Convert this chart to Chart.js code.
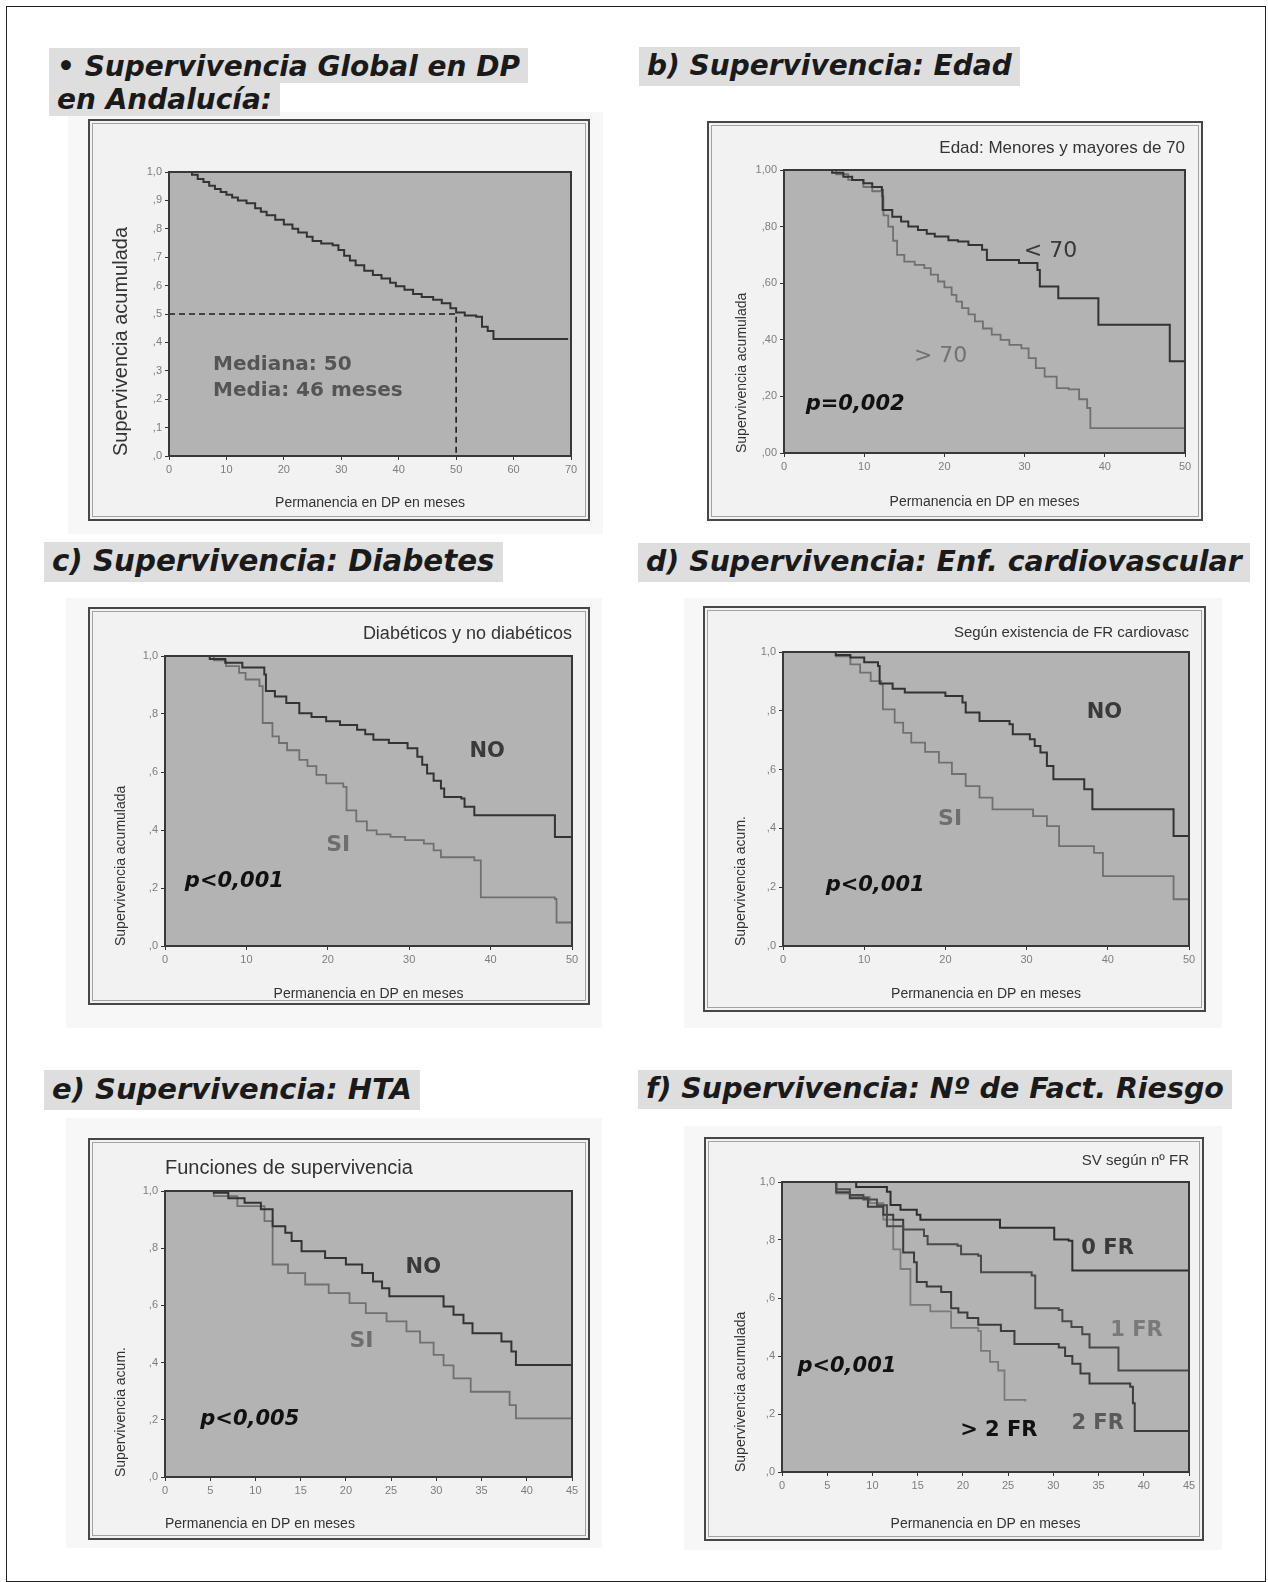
<!DOCTYPE html>
<html lang="es">
<head>
<meta charset="utf-8">
<title>Supervivencia en DP en Andalucía</title>
<script src="https://cdn.jsdelivr.net/npm/chart.js@4.4.1/dist/chart.umd.min.js"></script>
<style>
  html, body { margin: 0; padding: 0; background: #fff; }
  #page { position: relative; width: 1268px; height: 1582px; overflow: hidden; font-family: "Liberation Sans", Arial, sans-serif; }
  .border { position: absolute; left: 6px; top: 6px; width: 1258px; height: 1574px; border: 1px solid #222; }
  .halo { position: absolute; background: #f7f7f7; }
  .frame { position: absolute; box-sizing: border-box; background: #f2f2f2; border: 2px solid #474747;
           box-shadow: inset 0 0 0 2px #f2f2f2, inset 0 0 0 3px #a3a3a3; }
  .title { position: absolute; font-family: "DejaVu Sans", Verdana, sans-serif; font-weight: bold; font-style: italic;
           font-size: 28px; line-height: 31px; color: #1a1a1a; white-space: nowrap; }
  .title span { background: #dedede; padding: 2px 8px 4px 8px; -webkit-box-decoration-break: clone; box-decoration-break: clone; }
  .sub { position: absolute; font-family: "Liberation Sans", Arial, sans-serif; color: #333; white-space: nowrap; line-height: 1; }
</style>
</head>
<body>
<div id="page">
  <div class="border"></div>

  <div class="halo" style="left:68px;top:112px;width:535px;height:422px"></div>
  <div class="halo" style="left:66px;top:598px;width:536px;height:430px"></div>
  <div class="halo" style="left:684px;top:598px;width:538px;height:430px"></div>
  <div class="halo" style="left:66px;top:1118px;width:536px;height:430px"></div>
  <div class="halo" style="left:684px;top:1126px;width:538px;height:424px"></div>

  <div class="title" style="left:49px;top:50px;line-height:33px"><span style="padding-bottom:0">• Supervivencia Global en DP<br>en Andalucía:</span></div>
  <div class="title" style="left:639px;top:50px"><span>b) Supervivencia: Edad</span></div>
  <div class="title" style="left:44px;top:546px;font-size:29.3px"><span>c) Supervivencia: Diabetes</span></div>
  <div class="title" style="left:638px;top:546px;font-size:28.4px"><span>d) Supervivencia: Enf. cardiovascular</span></div>
  <div class="title" style="left:44px;top:1074px;font-size:29px"><span>e) Supervivencia: HTA</span></div>
  <div class="title" style="left:638px;top:1073px;font-size:28.5px"><span>f) Supervivencia: Nº de Fact. Riesgo</span></div>
</div>

<script>
// ---- datos: meses y supervivencia acumulada (Kaplan-Meier) ----
const globalMonths = [0, 4, 5, 6, 7, 8, 9, 10, 11, 12, 13.5, 15, 16, 17, 18.5, 20, 21.5, 22.5, 24, 25, 26.5, 28.5, 29.5, 30.5, 31.5, 32.5, 34, 35.5, 37, 38.5, 39.5, 41, 42.5, 44, 46, 47.5, 49, 50, 51.5, 53.5, 54.5, 55.5, 56.5, 69.5];
const globalSurv = [1, 0.99, 0.975, 0.965, 0.952, 0.94, 0.93, 0.92, 0.91, 0.9, 0.89, 0.872, 0.86, 0.848, 0.832, 0.815, 0.8, 0.787, 0.772, 0.757, 0.748, 0.742, 0.725, 0.705, 0.688, 0.672, 0.652, 0.637, 0.625, 0.61, 0.598, 0.585, 0.57, 0.56, 0.55, 0.538, 0.52, 0.505, 0.495, 0.49, 0.455, 0.44, 0.412, 0.412];
const medianMonths = 50;
const medianSurv = 0.5;

const edadMenMonths = [0, 4.9, 6, 7.4, 8.5, 9.9, 11, 12.2, 12.3, 13.5, 14.6, 15.5, 16.7, 17.8, 18.8, 20.5, 21.7, 23, 24.7, 25.3, 29.3, 31.6, 31.9, 34.2, 39.2, 48.1, 50];
const edadMenSurv = [1, 1, 0.99, 0.976, 0.965, 0.953, 0.94, 0.929, 0.859, 0.835, 0.818, 0.8, 0.788, 0.775, 0.765, 0.752, 0.747, 0.735, 0.718, 0.682, 0.671, 0.647, 0.588, 0.547, 0.453, 0.324, 0.253];
const edadMayMonths = [0, 4.9, 6.5, 8, 9.9, 11, 12.2, 12.4, 13, 13.6, 14.1, 15, 16.3, 17.5, 18.3, 19.2, 20, 20.9, 21.5, 22.2, 23, 23.8, 24.8, 25.9, 27, 28.1, 29.6, 30.5, 31.4, 32.5, 34, 35.5, 36.8, 37.8, 38.2, 50];
const edadMaySurv = [1, 1, 0.985, 0.965, 0.94, 0.925, 0.906, 0.84, 0.8, 0.75, 0.7, 0.676, 0.665, 0.653, 0.63, 0.606, 0.585, 0.559, 0.535, 0.512, 0.49, 0.465, 0.44, 0.418, 0.4, 0.382, 0.37, 0.335, 0.3, 0.27, 0.229, 0.225, 0.19, 0.159, 0.088, 0.088];

const diabNoMonths = [0, 4.1, 5.5, 7.4, 9.5, 12.2, 12.4, 13.5, 14.9, 16.5, 18, 19.8, 21.5, 23.6, 24.6, 25.6, 27.5, 29.8, 31, 31.6, 32.2, 33, 33.9, 34.3, 36.4, 36.8, 38, 47.9, 50];
const diabNoSurv = [1, 1, 0.99, 0.977, 0.96, 0.936, 0.879, 0.86, 0.838, 0.803, 0.79, 0.775, 0.762, 0.746, 0.73, 0.711, 0.7, 0.682, 0.653, 0.625, 0.595, 0.57, 0.543, 0.514, 0.509, 0.48, 0.451, 0.376, 0.283];
const diabSiMonths = [0, 4.1, 6, 7.5, 9.1, 9.9, 11.6, 12, 13.2, 14, 15, 16.5, 17.5, 18.6, 19.8, 21.9, 22.3, 23.5, 24.8, 26, 27.7, 29.5, 31.8, 33, 33.9, 38, 38.8, 47.9, 48.1, 50];
const diabSiSurv = [1, 1, 0.985, 0.965, 0.942, 0.919, 0.896, 0.769, 0.723, 0.7, 0.675, 0.642, 0.62, 0.59, 0.561, 0.549, 0.468, 0.43, 0.399, 0.385, 0.376, 0.365, 0.353, 0.33, 0.306, 0.295, 0.168, 0.162, 0.081, 0.069];

const cardNoMonths = [0, 5, 6.5, 8.3, 10, 11.7, 11.9, 13.5, 15, 20, 22.1, 22.5, 24.2, 27.9, 28.3, 30.4, 31, 31.7, 32.5, 33.3, 37.1, 38.1, 48.1, 50];
const cardNoSurv = [1, 1, 0.99, 0.981, 0.965, 0.952, 0.893, 0.875, 0.862, 0.85, 0.828, 0.794, 0.765, 0.754, 0.72, 0.703, 0.68, 0.658, 0.612, 0.567, 0.533, 0.465, 0.374, 0.374];
const cardSiMonths = [0, 5, 6.5, 8.3, 9.5, 10.8, 12.1, 12.3, 13.75, 14.8, 15.8, 17.5, 19.2, 20.8, 22.5, 24.2, 25.8, 30.8, 32.5, 34, 38.3, 39.4, 48.1, 50];
const cardSiSurv = [1, 1, 0.985, 0.958, 0.93, 0.901, 0.89, 0.805, 0.76, 0.725, 0.692, 0.66, 0.624, 0.585, 0.544, 0.505, 0.465, 0.442, 0.408, 0.34, 0.317, 0.238, 0.159, 0.153];

const htaNoMonths = [0, 2.1, 5.4, 7, 8.8, 10.6, 11.9, 13.3, 14, 15.1, 17.7, 20, 21.8, 23, 24, 24.8, 30.8, 31.9, 33, 34, 37.2, 38.3, 38.8, 45];
const htaNoSurv = [1, 1, 0.994, 0.975, 0.959, 0.936, 0.877, 0.854, 0.825, 0.789, 0.766, 0.743, 0.713, 0.684, 0.66, 0.632, 0.596, 0.567, 0.538, 0.503, 0.474, 0.439, 0.392, 0.392];
const htaSiMonths = [0, 2.1, 5.4, 8, 11, 11.9, 13.6, 15.5, 18.1, 20.4, 22.2, 24.5, 26.7, 28.2, 29.7, 30.8, 31.9, 33.8, 38.1, 38.8, 45];
const htaSiSurv = [1, 1, 0.982, 0.947, 0.895, 0.743, 0.713, 0.673, 0.643, 0.608, 0.573, 0.544, 0.509, 0.47, 0.427, 0.39, 0.345, 0.298, 0.251, 0.205, 0.205];

const fr0Months = [0, 4.1, 8.2, 11.6, 12, 13.1, 14.9, 15.3, 24.1, 30.1, 31.7, 32.1, 45];
const fr0Surv = [1, 1, 0.983, 0.966, 0.921, 0.904, 0.887, 0.87, 0.842, 0.802, 0.797, 0.695, 0.695];
const fr1Months = [0, 4.1, 6, 7.5, 9, 10.5, 11.6, 13.4, 15.7, 16.1, 19.4, 19.8, 21.7, 22, 27.6, 28, 30.6, 31, 32, 33.2, 34, 37.2, 45];
const fr1Surv = [1, 1, 0.975, 0.955, 0.94, 0.92, 0.847, 0.836, 0.814, 0.785, 0.78, 0.751, 0.746, 0.689, 0.678, 0.565, 0.559, 0.52, 0.5, 0.475, 0.429, 0.35, 0.35];
const fr2Months = [0, 4.1, 6, 7.5, 9.5, 11.2, 12.3, 13.4, 14.6, 14.9, 16, 17.6, 18.7, 19.5, 20.5, 21.7, 24.2, 25.7, 30.6, 31.3, 32.1, 33, 34, 38.5, 38.8, 39, 45];
const fr2Surv = [1, 1, 0.965, 0.944, 0.915, 0.887, 0.87, 0.757, 0.723, 0.655, 0.64, 0.621, 0.565, 0.55, 0.531, 0.508, 0.486, 0.441, 0.429, 0.4, 0.373, 0.34, 0.305, 0.294, 0.237, 0.141, 0.141];
const fr3Months = [0, 4.1, 6, 7.5, 9.7, 11.2, 12.3, 13.1, 14.2, 16.4, 18.7, 21.7, 22, 23, 23.9, 24.6, 26.9];
const fr3Surv = [1, 1, 0.96, 0.949, 0.927, 0.87, 0.768, 0.7, 0.576, 0.554, 0.497, 0.486, 0.418, 0.38, 0.35, 0.249, 0.243];

// ---- etiquetas de los ejes ----
const yLabelsTenth = [',0', ',1', ',2', ',3', ',4', ',5', ',6', ',7', ',8', ',9', '1,0'];
const yLabelsFifth = [',0', ',2', ',4', ',6', ',8', '1,0'];
const yLabelsFifth2 = [',00', ',20', ',40', ',60', ',80', '1,00'];
const xLabels70 = ['0', '10', '20', '30', '40', '50', '60', '70'];
const xLabels50 = ['0', '10', '20', '30', '40', '50'];
const xLabels45 = ['0', '5', '10', '15', '20', '25', '30', '35', '40', '45'];

const PLOT_BG = '#b3b3b3';
const DARK = '#333333';
const LIGHT = '#707070';
const noteBold = 'bold 21px "DejaVu Sans"';
const noteP = 'bold italic 21px "DejaVu Sans"';

const page = document.getElementById('page');
const pts = (xs, ys) => xs.map((x, i) => ({ x: x, y: ys[i] }));

const panels = [
  {
    id: 'a', frame: [88, 119, 502, 402], plot: [169, 172, 402, 284], yTitleX: 121, xTitleY: 503,
    xMax: 70, xStep: 10, xLabels: xLabels70, yStep: 0.1, yLabels: yLabelsTenth,
    yTitle: 'Supervivencia acumulada', yTitleSize: 20, xAlign: 'center', median: true,
    series: [{ months: globalMonths, surv: globalSurv, color: DARK, width: 2 }],
    notes: [
      { x: 7.66, y: 0.32, text: 'Mediana: 50', font: 'bold 20px "DejaVu Sans"', color: '#555' },
      { x: 7.66, y: 0.229, text: 'Media: 46 meses', font: 'bold 20px "DejaVu Sans"', color: '#555' }
    ]
  },
  {
    id: 'b', frame: [707, 121, 496, 400], plot: [784, 170, 401, 283], yTitleX: 742, xTitleY: 502,
    xMax: 50, xStep: 10, xLabels: xLabels50, yStep: 0.2, yLabels: yLabelsFifth2,
    yTitle: 'Supervivencia acumulada', yTitleSize: 14, xAlign: 'center',
    series: [
      { months: edadMenMonths, surv: edadMenSurv, color: DARK, width: 2 },
      { months: edadMayMonths, surv: edadMaySurv, color: LIGHT, width: 1.8 }
    ],
    notes: [
      { x: 29.9, y: 0.712, text: '< 70', font: '22px "DejaVu Sans"', color: '#383838' },
      { x: 16.2, y: 0.341, text: '> 70', font: '22px "DejaVu Sans"', color: '#727272' },
      { x: 2.7, y: 0.17, text: 'p=0,002', font: noteP, color: '#111' }
    ]
  },
  {
    id: 'c', frame: [88, 607, 502, 398], plot: [165, 656, 407, 290], yTitleX: 121, xTitleY: 994,
    xMax: 50, xStep: 10, xLabels: xLabels50, yStep: 0.2, yLabels: yLabelsFifth,
    yTitle: 'Supervivencia acumulada', yTitleSize: 14, xAlign: 'center',
    series: [
      { months: diabNoMonths, surv: diabNoSurv, color: DARK, width: 2 },
      { months: diabSiMonths, surv: diabSiSurv, color: LIGHT, width: 1.8 }
    ],
    notes: [
      { x: 37.4, y: 0.67, text: 'NO', font: noteBold, color: '#3a3a3a' },
      { x: 19.8, y: 0.348, text: 'SI', font: 'bold 22px "DejaVu Sans"', color: '#6e6e6e' },
      { x: 2.44, y: 0.223, text: 'p<0,001', font: noteP, color: '#111' }
    ]
  },
  {
    id: 'd', frame: [703, 606, 503, 406], plot: [783, 652, 406, 294], yTitleX: 741, xTitleY: 994,
    xMax: 50, xStep: 10, xLabels: xLabels50, yStep: 0.2, yLabels: yLabelsFifth,
    yTitle: 'Supervivencia acum.', yTitleSize: 14, xAlign: 'center',
    series: [
      { months: cardNoMonths, surv: cardNoSurv, color: DARK, width: 2 },
      { months: cardSiMonths, surv: cardSiSurv, color: LIGHT, width: 1.8 }
    ],
    notes: [
      { x: 37.4, y: 0.794, text: 'NO', font: noteBold, color: '#3a3a3a' },
      { x: 19.1, y: 0.432, text: 'SI', font: 'bold 22px "DejaVu Sans"', color: '#6e6e6e' },
      { x: 5.25, y: 0.204, text: 'p<0,001', font: noteP, color: '#111' }
    ]
  },
  {
    id: 'e', frame: [88, 1138, 502, 402], plot: [165, 1191, 407, 286], yTitleX: 121, xTitleY: 1524,
    xMax: 45, xStep: 5, xLabels: xLabels45, yStep: 0.2, yLabels: yLabelsFifth,
    yTitle: 'Supervivencia acum.', yTitleSize: 14, xAlign: 'start',
    series: [
      { months: htaNoMonths, surv: htaNoSurv, color: DARK, width: 2 },
      { months: htaSiMonths, surv: htaSiSurv, color: LIGHT, width: 1.8 }
    ],
    notes: [
      { x: 26.6, y: 0.731, text: 'NO', font: noteBold, color: '#3a3a3a' },
      { x: 20.4, y: 0.474, text: 'SI', font: 'bold 22px "DejaVu Sans"', color: '#6e6e6e' },
      { x: 3.9, y: 0.2, text: 'p<0,005', font: noteP, color: '#111' }
    ]
  },
  {
    id: 'f', frame: [704, 1137, 500, 404], plot: [782, 1182, 407, 290], yTitleX: 741, xTitleY: 1524,
    xMax: 45, xStep: 5, xLabels: xLabels45, yStep: 0.2, yLabels: yLabelsFifth,
    yTitle: 'Supervivencia acumulada', yTitleSize: 14, xAlign: 'center',
    series: [
      { months: fr0Months, surv: fr0Surv, color: '#2e2e2e', width: 2 },
      { months: fr1Months, surv: fr1Surv, color: '#4a4a4a', width: 2 },
      { months: fr2Months, surv: fr2Surv, color: '#3c3c3c', width: 2 },
      { months: fr3Months, surv: fr3Surv, color: '#7a7a7a', width: 1.8 }
    ],
    notes: [
      { x: 33.1, y: 0.77, text: '0 FR', font: noteBold, color: '#3a3a3a' },
      { x: 36.3, y: 0.487, text: '1 FR', font: noteBold, color: '#7a7a7a' },
      { x: 32.0, y: 0.166, text: '2 FR', font: noteBold, color: '#5a5a5a' },
      { x: 19.7, y: 0.142, text: '> 2 FR', font: noteBold, color: '#111' },
      { x: 1.7, y: 0.362, text: 'p<0,001', font: noteP, color: '#111' }
    ]
  }
];

// subtítulos dentro de cada ventana
const subs = [
  { text: 'Edad: Menores y mayores de 70', size: 17, right: 1185, top: 139 },
  { text: 'Diabéticos y no diabéticos', size: 18, right: 572, top: 624 },
  { text: 'Según existencia de FR cardiovasc', size: 15, right: 1189, top: 624 },
  { text: 'Funciones de supervivencia', size: 20, left: 165, top: 1157 },
  { text: 'SV según nº FR', size: 15, right: 1189, top: 1152 }
];

function panelPlugin(p) {
  return {
    id: 'panel_' + p.id,
    beforeDraw(chart) {
      const a = chart.chartArea, c = chart.ctx;
      c.save();
      c.fillStyle = PLOT_BG;
      c.fillRect(a.left, a.top, a.right - a.left, a.bottom - a.top);
      c.restore();
    },
    afterDraw(chart) {
      const a = chart.chartArea, c = chart.ctx;
      const xs = chart.scales.x, ys = chart.scales.y;
      c.save();
      c.strokeStyle = '#383838';
      c.lineWidth = 2;
      c.strokeRect(a.left, a.top, a.right - a.left, a.bottom - a.top);
      c.textAlign = 'left';
      c.textBaseline = 'middle';
      p.notes.forEach(n => {
        c.font = n.font;
        c.fillStyle = n.color;
        c.fillText(n.text, xs.getPixelForValue(n.x), ys.getPixelForValue(n.y));
      });
      c.restore();
    }
  };
}

function makePanel(p) {
  const [fx, fy, fw, fh] = p.frame;
  const [px, py, pw, ph] = p.plot;

  const box = document.createElement('div');
  box.className = 'frame';
  box.style.cssText = `left:${fx}px;top:${fy}px;width:${fw}px;height:${fh}px`;
  page.appendChild(box);

  const cv = document.createElement('canvas');
  cv.width = fw;
  cv.height = fh;
  cv.style.cssText = `position:absolute;left:${fx}px;top:${fy}px;width:${fw}px;height:${fh}px`;
  page.appendChild(cv);

  const yLH = p.yTitleSize * 1.2, xLH = 14 * 1.2;
  const yW = px - (p.yTitleX - yLH / 2);
  const xH = (p.xTitleY + xLH / 2) - (py + ph);
  const pad = { left: px - fx - yW, top: py - fy, right: fx + fw - px - pw, bottom: fy + fh - py - ph - xH };

  const datasets = p.series.map(s => ({
    data: pts(s.months, s.surv),
    borderColor: s.color,
    borderWidth: s.width,
    stepped: true,
    pointRadius: 0,
    fill: false
  }));
  if (p.median) {
    datasets.push({
      data: [{ x: 0, y: medianSurv }, { x: medianMonths, y: medianSurv }, { x: medianMonths, y: 0 }],
      borderColor: '#1e1e1e', borderWidth: 1.6, borderDash: [6, 4], pointRadius: 0, fill: false
    });
  }

  const tickFont = { size: 11, family: '"Liberation Sans", Arial, sans-serif' };
  const gridOpts = { drawOnChartArea: false, drawTicks: true, tickLength: 4, color: '#333' };

  new Chart(cv, {
    type: 'line',
    data: { datasets },
    options: {
      responsive: false,
      animation: false,
      events: [],
      layout: { padding: pad },
      plugins: { legend: { display: false }, tooltip: { enabled: false } },
      scales: {
        x: {
          type: 'linear', min: 0, max: p.xMax,
          afterFit: s => { s.height = xH; },
          ticks: { stepSize: p.xStep, autoSkip: false, maxRotation: 0, color: '#7d7d7d', font: tickFont, padding: 3,
                   callback: (v, i) => p.xLabels[i] },
          grid: gridOpts,
          border: { display: false },
          title: { display: true, text: 'Permanencia en DP en meses', align: p.xAlign, color: '#333',
                   font: { size: 14, family: '"Liberation Sans", Arial, sans-serif' }, padding: 0 }
        },
        y: {
          type: 'linear', min: 0, max: 1,
          afterFit: s => { s.width = yW; },
          ticks: { stepSize: p.yStep, autoSkip: false, color: '#7d7d7d', font: tickFont, padding: 3,
                   callback: (v, i) => p.yLabels[i] },
          grid: gridOpts,
          border: { display: false },
          title: { display: true, text: p.yTitle, align: 'start', color: '#333',
                   font: { size: p.yTitleSize, family: '"Liberation Sans", Arial, sans-serif' }, padding: 0 }
        }
      }
    },
    plugins: [panelPlugin(p)]
  });
}

panels.forEach(makePanel);

subs.forEach(s => {
  const d = document.createElement('div');
  d.className = 'sub';
  d.textContent = s.text;
  d.style.fontSize = s.size + 'px';
  d.style.top = s.top + 'px';
  if (s.left !== undefined) d.style.left = s.left + 'px';
  else d.style.right = (1268 - s.right) + 'px';
  page.appendChild(d);
});

// títulos por encima de todo
document.querySelectorAll('.title').forEach(t => page.appendChild(t));
</script>
</body>
</html>
